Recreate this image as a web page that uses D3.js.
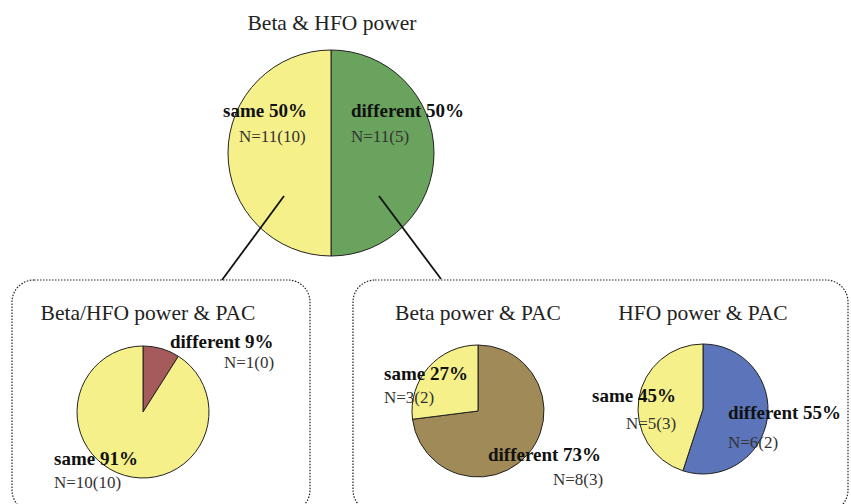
<!DOCTYPE html>
<html><head><meta charset="utf-8">
<script src="https://cdn.jsdelivr.net/npm/d3@7"></script>
<style>html,body{margin:0;padding:0;background:#fff}</style>
</head><body>
<svg id="c" width="851" height="504"></svg>
<script>
// Data
const pieTitles = ["Beta & HFO power", "Beta/HFO power & PAC", "Beta power & PAC", "HFO power & PAC"];
const categories = ["same", "different"];
const topValues = [50, 50];
const topCounts = ["N=11(10)", "N=11(5)"];
const pacValues = [91, 9];
const pacCounts = ["N=10(10)", "N=1(0)"];
const betaValues = [27, 73];
const betaCounts = ["N=3(2)", "N=8(3)"];
const hfoValues = [45, 55];
const hfoCounts = ["N=5(3)", "N=6(2)"];

const svg = d3.select("#c");
const serif = "'Liberation Serif','Times New Roman',serif";
const yellow = "#f5f08a";

// dotted rounded boxes
svg.append("rect").attr("x", 12).attr("y", 280).attr("width", 298).attr("height", 232)
  .attr("rx", 22).attr("fill", "none").attr("stroke", "#222").attr("stroke-width", 1.2).attr("stroke-dasharray", "1.5,1.5");
svg.append("rect").attr("x", 353).attr("y", 280).attr("width", 495).attr("height", 232)
  .attr("rx", 22).attr("fill", "none").attr("stroke", "#222").attr("stroke-width", 1.2).attr("stroke-dasharray", "1.5,1.5");

function drawPie(cx, cy, r, values, colors) {
  // slices drawn clockwise from 12 o'clock; "different" first
  const order = [1, 0];
  const data = order.map(i => ({v: values[i], c: colors[i]}));
  const pie = d3.pie().value(d => d.v).sort(null);
  const arc = d3.arc().innerRadius(0).outerRadius(r);
  const g = svg.append("g").attr("transform", `translate(${cx},${cy})`);
  g.selectAll("path").data(pie(data)).join("path")
    .attr("d", arc).attr("fill", d => d.data.c)
    .attr("stroke", "#222").attr("stroke-width", 1);
}

function title(x, y, t) {
  svg.append("text").attr("x", x).attr("y", y).attr("text-anchor", "middle")
    .attr("font-family", serif).attr("font-size", 21.5).attr("fill", "#222").text(t);
}
function label(x, y, cat, pct, nx, ny, cnt) {
  svg.append("text").attr("x", x).attr("y", y).attr("font-family", serif)
    .attr("font-size", 19).attr("font-weight", "bold").attr("fill", "#111").text(cat + " " + pct + "%");
  svg.append("text").attr("x", nx).attr("y", ny).attr("font-family", serif)
    .attr("font-size", 17).attr("fill", "#333").text(cnt);
}

// top pie
title(332, 30, pieTitles[0]);
drawPie(331, 153, 103, topValues, [yellow, "#6aa35d"]);

// connector lines
svg.append("line").attr("x1", 284).attr("y1", 196).attr("x2", 222).attr("y2", 280).attr("stroke", "#111").attr("stroke-width", 1.8);
svg.append("line").attr("x1", 379).attr("y1", 196).attr("x2", 441).attr("y2", 279).attr("stroke", "#111").attr("stroke-width", 1.8);

label(223, 117, categories[0], topValues[0], 239, 142, topCounts[0]);
label(351, 117, categories[1], topValues[1], 351, 142, topCounts[1]);

// PAC pie
title(148, 320, pieTitles[1]);
drawPie(143, 412, 66, pacValues, [yellow, "#a55a5c"]);
label(170, 348, categories[1], pacValues[1], 224, 368, pacCounts[1]);
label(54, 465, categories[0], pacValues[0], 54, 488, pacCounts[0]);

// Beta pie
title(478, 320, pieTitles[2]);
drawPie(478, 411, 66, betaValues, [yellow, "#a08b58"]);
label(384, 380, categories[0], betaValues[0], 384, 403, betaCounts[0]);
label(488, 461, categories[1], betaValues[1], 553, 485, betaCounts[1]);

// HFO pie
title(703, 320, pieTitles[3]);
drawPie(703, 409, 65, hfoValues, [yellow, "#5b74ba"]);
label(592, 402, categories[0], hfoValues[0], 626, 429, hfoCounts[0]);
label(728, 419, categories[1], hfoValues[1], 728, 448, hfoCounts[1]);
</script>
</body></html>
